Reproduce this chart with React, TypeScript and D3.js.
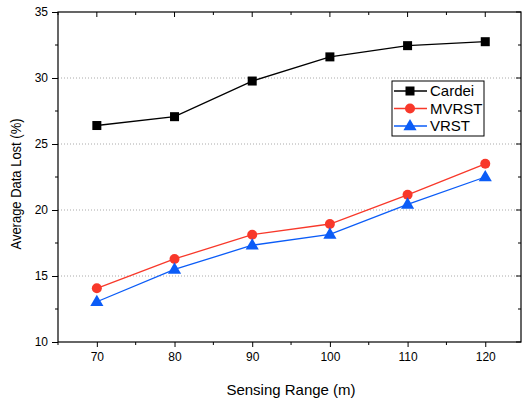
import React, { useEffect, useRef } from 'react';
import * as d3 from 'd3';

const ranges = [70, 80, 90, 100, 110, 120];
const cardei = [26.4, 27.07, 29.77, 31.6, 32.45, 32.75];
const mvrst = [14.07, 16.29, 18.13, 18.94, 21.15, 23.5];
const vrst = [13.05, 15.5, 17.33, 18.15, 20.42, 22.5];
const yTicks = [10, 15, 20, 25, 30, 35];
const gridTicks = [15, 20, 25, 30];

const series = [
  { name: 'Cardei', values: cardei, color: '#000000', marker: 'square' },
  { name: 'MVRST', values: mvrst, color: '#f8382a', marker: 'circle' },
  { name: 'VRST', values: vrst, color: '#0b5cf7', marker: 'triangle' },
];

const App = () => {
  const svgRef = useRef<SVGSVGElement>(null);

  useEffect(() => {
    const W = 522;
    const H = 403;
    const margin = { top: 12, right: 1, bottom: 61, left: 58 };
    const width = W - margin.left - margin.right;
    const height = H - margin.top - margin.bottom;
    const font = 'Liberation Sans, Arial, sans-serif';

    d3.select(svgRef.current).selectAll('*').remove();

    const svg = d3
      .select(svgRef.current)
      .attr('width', W)
      .attr('height', H)
      .append('g')
      .attr('transform', `translate(${margin.left}, ${margin.top})`);

    const x = d3.scaleLinear().domain([65, 124.6]).range([0, width]);
    const y = d3.scaleLinear().domain([10, 35]).range([height, 0]);

    // Grid lines
    svg
      .selectAll('.grid')
      .data(gridTicks)
      .enter()
      .append('line')
      .attr('x1', 0)
      .attr('x2', width)
      .attr('y1', d => y(d))
      .attr('y2', d => y(d))
      .attr('stroke', '#aaaaaa')
      .attr('stroke-width', 1)
      .attr('stroke-dasharray', '1,2');

    const minorX = d3.range(65, 125, 5).filter(v => v % 10 !== 0);
    const minorY = d3.range(12.5, 35, 5);

    // Bottom axis (outward ticks)
    const bottom = svg.append('g').attr('transform', `translate(0, ${height})`);
    bottom
      .call(d3.axisBottom(x).tickValues(ranges).tickSize(5).tickPadding(5).tickFormat(d3.format('d')))
      .call(g => g.select('.domain').remove());
    bottom
      .selectAll('.minor')
      .data(minorX)
      .enter()
      .append('line')
      .attr('x1', d => x(d))
      .attr('x2', d => x(d))
      .attr('y1', 0)
      .attr('y2', 3)
      .attr('stroke', '#000');

    // Top mirror ticks (inward)
    const top = svg.append('g');
    top
      .selectAll('.maj')
      .data(ranges)
      .enter()
      .append('line')
      .attr('x1', d => x(d))
      .attr('x2', d => x(d))
      .attr('y1', 0)
      .attr('y2', 5)
      .attr('stroke', '#000');
    top
      .selectAll('.minor')
      .data(minorX)
      .enter()
      .append('line')
      .attr('x1', d => x(d))
      .attr('x2', d => x(d))
      .attr('y1', 0)
      .attr('y2', 3)
      .attr('stroke', '#000');

    // Left axis
    const left = svg.append('g');
    left
      .call(d3.axisLeft(y).tickValues(yTicks).tickSize(6).tickPadding(4))
      .call(g => g.select('.domain').remove());
    left
      .selectAll('.minor')
      .data(minorY)
      .enter()
      .append('line')
      .attr('x1', 0)
      .attr('x2', -3)
      .attr('y1', d => y(d))
      .attr('y2', d => y(d))
      .attr('stroke', '#000');

    // Right mirror ticks
    const right = svg.append('g').attr('transform', `translate(${width}, 0)`);
    right
      .selectAll('.maj')
      .data(yTicks)
      .enter()
      .append('line')
      .attr('x1', 0)
      .attr('x2', -5)
      .attr('y1', d => y(d))
      .attr('y2', d => y(d))
      .attr('stroke', '#000');
    right
      .selectAll('.minor')
      .data(minorY)
      .enter()
      .append('line')
      .attr('x1', 0)
      .attr('x2', -3)
      .attr('y1', d => y(d))
      .attr('y2', d => y(d))
      .attr('stroke', '#000');

    svg
      .selectAll('.tick text')
      .style('font-family', font)
      .style('font-size', '12px')
      .attr('fill', '#000');
    svg.selectAll('.tick line').attr('stroke', '#000');

    // Frame
    svg
      .append('rect')
      .attr('x', 0)
      .attr('y', 0)
      .attr('width', width)
      .attr('height', height)
      .attr('fill', 'none')
      .attr('stroke', '#000')
      .attr('stroke-width', 1.2);

    const drawMarker = (g, type, cx, cy, color) => {
      if (type === 'square') {
        g.append('rect')
          .attr('x', cx - 4.5)
          .attr('y', cy - 4.5)
          .attr('width', 9)
          .attr('height', 9)
          .attr('fill', color);
      } else if (type === 'circle') {
        g.append('circle').attr('cx', cx).attr('cy', cy).attr('r', 5).attr('fill', color);
      } else {
        const s = d3.symbol().type(d3.symbolTriangle).size(75);
        g.append('path')
          .attr('d', s())
          .attr('transform', `translate(${cx}, ${cy + 0.5})`)
          .attr('fill', color);
      }
    };

    const line = d3
      .line<number>()
      .x((_, i) => x(ranges[i]))
      .y(d => y(d));

    series.forEach(s => {
      const g = svg.append('g');
      g.append('path')
        .attr('d', line(s.values))
        .attr('fill', 'none')
        .attr('stroke', s.color)
        .attr('stroke-width', 1.3);
      s.values.forEach((v, i) => drawMarker(g, s.marker, x(ranges[i]), y(v), s.color));
    });

    // Legend
    const lx = 392 - margin.left;
    const ly = 81 - margin.top;
    svg
      .append('rect')
      .attr('x', lx)
      .attr('y', ly)
      .attr('width', 92)
      .attr('height', 55)
      .attr('fill', '#fff')
      .attr('stroke', '#000')
      .attr('stroke-width', 1);

    series.forEach((s, i) => {
      const cy = ly + 10 + i * 17.5;
      const g = svg.append('g');
      g.append('line')
        .attr('x1', lx + 2)
        .attr('x2', lx + 35)
        .attr('y1', cy)
        .attr('y2', cy)
        .attr('stroke', s.color)
        .attr('stroke-width', 1.3);
      drawMarker(g, s.marker, lx + 18, cy, s.color);
      g.append('text')
        .attr('x', lx + 38)
        .attr('y', cy)
        .attr('dy', '0.35em')
        .style('font-family', font)
        .style('font-size', '15px')
        .text(s.name);
    });

    // Axis titles
    svg
      .append('text')
      .attr('x', 291 - margin.left)
      .attr('y', 395 - margin.top)
      .attr('text-anchor', 'middle')
      .style('font-family', font)
      .style('font-size', '15px')
      .text('Sensing Range (m)');

    svg
      .append('text')
      .attr('transform', 'rotate(-90)')
      .attr('x', -(184 - margin.top))
      .attr('y', 21 - margin.left)
      .attr('text-anchor', 'middle')
      .attr('textLength', 131)
      .attr('lengthAdjust', 'spacingAndGlyphs')
      .style('font-family', font)
      .style('font-size', '14px')
      .text('Average Data Lost (%)');
  }, []);

  return (
    <svg ref={svgRef} style={{ position: 'absolute', left: 0, top: 0, background: '#fff' }}></svg>
  );
};

export default App;
